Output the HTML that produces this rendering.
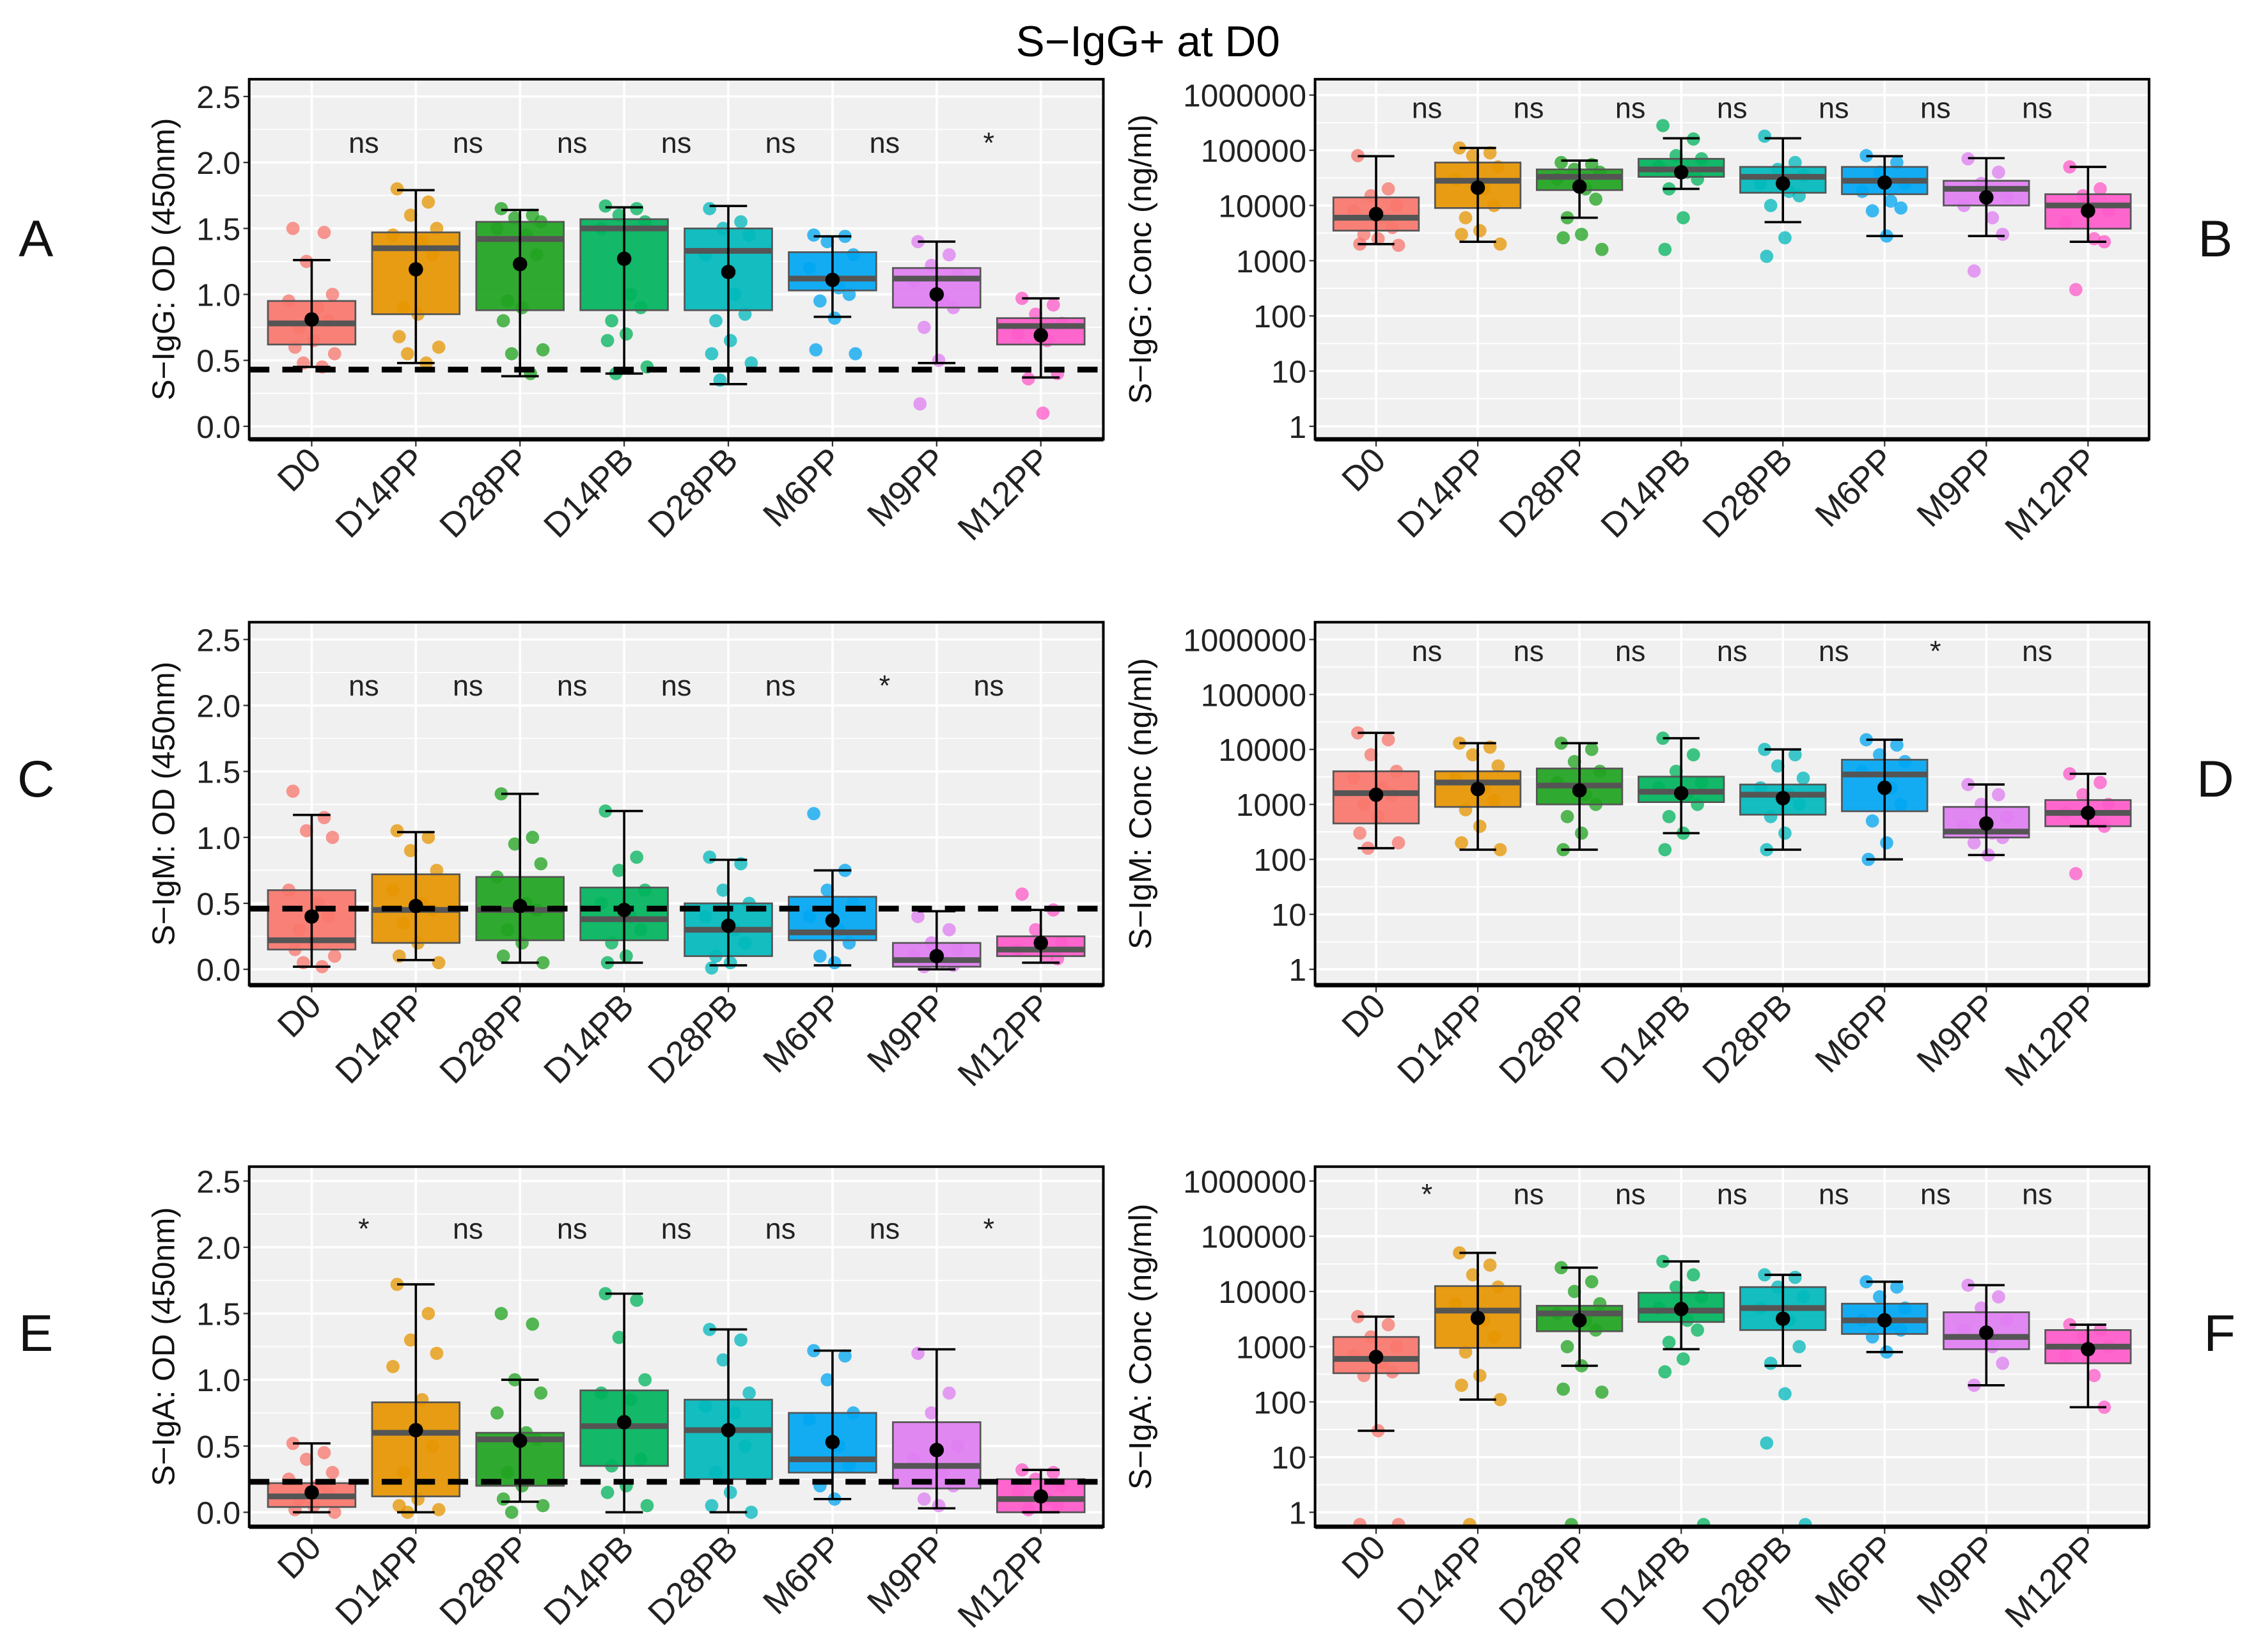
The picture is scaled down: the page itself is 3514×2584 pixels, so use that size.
<!DOCTYPE html>
<html><head><meta charset="utf-8"><style>
html,body{margin:0;padding:0;background:#fff;}
svg{display:block;font-family:"Liberation Sans",Arial,sans-serif;}
</style></head><body>
<svg id="fig" width="3514" height="2584" viewBox="0 0 1560 1147" preserveAspectRatio="none" xmlns="http://www.w3.org/2000/svg">
<text x="797" y="39" font-size="30" text-anchor="middle">S−IgG+ at D0</text>
</svg>
<script>
const categories=["D0","D14PP","D28PP","D14PB","D28PB","M6PP","M9PP","M12PP"];
const colors=["#F8766D","#E69500","#1FA31F","#00B35C","#00B8BC","#00A6F2","#DF7EF2","#FF5ACA"];
const linTicks=[0,0.5,1,1.5,2,2.5];
const linTickLabels=["0.0","0.5","1.0","1.5","2.0","2.5"];
const logTicks=[1,10,100,1000,10000,100000,1000000];
const logTickLabels=["1","10","100","1000","10000","100000","1000000"];

// Panel A
const aQ1=[.62,.85,.88,.88,.88,1.03,.9,.62];
const aMed=[.78,1.35,1.42,1.5,1.33,1.12,1.12,.76];
const aQ3=[.95,1.47,1.55,1.57,1.5,1.32,1.2,.82];
const aMean=[.81,1.19,1.23,1.27,1.17,1.11,1.0,.69];
const aLo=[.45,.48,.38,.4,.32,.83,.48,.37];
const aHi=[1.26,1.79,1.64,1.66,1.67,1.44,1.40,.97];
const aPts=[[1.5,1.47,1.25,1.0,.95,.9,.8,.75,.65,.6,.55,.48,.45],[1.8,1.7,1.6,1.5,1.45,1.4,1.3,.9,.85,.68,.6,.55,.48],[1.65,1.6,1.58,1.55,1.5,1.45,1.3,.95,.9,.8,.58,.55,.4],[1.67,1.65,1.6,1.55,1.5,1.0,.9,.8,.7,.65,.45,.4],[1.65,1.55,1.5,1.45,1.3,1.0,.85,.8,.65,.55,.48,.35],[1.45,1.44,1.4,1.3,1.2,1.05,1.0,.95,.82,.58,.55],[1.4,1.3,1.22,1.15,1.1,.95,.9,.75,.5,.17],[.97,.92,.85,.78,.7,.65,.4,.36,.1]];
const aSig=["ns","ns","ns","ns","ns","ns","*"];
const aCut=0.43;
// Panel B
const bQ1=[3500,9000,19000,33000,17000,16000,10000,3800];
const bMed=[6000,28000,33000,45000,33000,28000,20000,10000];
const bQ3=[14000,60000,45000,70000,50000,50000,28000,16000];
const bMean=[7000,21000,22000,40000,25000,26000,14000,8000];
const bLo=[2000,2200,6000,20000,5000,2800,2800,2200];
const bHi=[78000,110000,65000,165000,165000,78000,72000,50000];
const bPts=[[80000,20000,15000,10000,8000,6000,4000,3000,2500,2000,1900],[110000,90000,80000,50000,30000,20000,10000,6000,3500,3000,2000],[60000,55000,45000,40000,30000,20000,13000,6000,3000,2600,1600],[280000,160000,80000,70000,50000,40000,30000,20000,6000,1600],[180000,60000,45000,35000,25000,18000,15000,10000,2600,1200],[80000,60000,40000,25000,18000,12000,9000,8000,2800],[70000,40000,25000,15000,10000,6000,3000,650],[50000,20000,15000,8000,5000,2500,2200,300]];
const bSig=["ns","ns","ns","ns","ns","ns","ns"];
// Panel C
const cQ1=[.15,.2,.22,.22,.1,.22,.02,.1];
const cMed=[.22,.45,.45,.38,.3,.28,.07,.15];
const cQ3=[.6,.72,.7,.62,.5,.55,.2,.25];
const cMean=[.4,.48,.48,.45,.33,.37,.1,.2];
const cLo=[.02,.07,.05,.05,.03,.03,.0,.05];
const cHi=[1.17,1.04,1.33,1.2,.83,.75,.44,.45];
const cPts=[[1.35,1.15,1.05,1.0,.6,.5,.4,.3,.2,.15,.1,.05,.02],[1.05,1.0,.9,.75,.6,.5,.45,.35,.2,.1,.05],[1.33,1.0,.95,.8,.7,.5,.45,.3,.2,.1,.05],[1.2,.85,.75,.6,.5,.4,.3,.2,.1,.05],[.85,.8,.6,.5,.4,.3,.2,.1,.05,.01],[1.18,.75,.6,.5,.4,.3,.2,.1,.05],[.4,.3,.2,.15,.1,.06,.03,.02],[.57,.45,.3,.2,.15,.1,.08]];
const cSig=["ns","ns","ns","ns","ns","*","ns"];
const cCut=0.46;
// Panel D
const dQ1=[450,900,1000,1100,650,750,250,400];
const dMed=[1600,2500,2200,1700,1500,3500,320,700];
const dQ3=[4000,4000,4500,3200,2300,6500,900,1200];
const dMean=[1500,1900,1800,1600,1300,2000,450,700];
const dLo=[160,150,150,300,150,100,120,400];
const dHi=[20000,13000,13000,16000,10000,15000,2300,3600];
const dPts=[[20000,15000,8000,4000,3000,2000,1500,1000,600,300,200,160],[13000,11000,8000,5000,3000,2000,1200,800,400,200,150],[13000,10000,6000,4000,2500,1500,1000,600,300,150],[16000,8000,4000,2500,2000,1500,1000,600,300,150],[10000,8000,5000,3000,2000,1500,1000,600,300,150],[15000,12000,8000,6000,4000,2000,1000,500,200,100],[2300,1500,1000,600,400,300,250,200,120],[3600,2500,1500,1000,700,500,400,55]];
const dSig=["ns","ns","ns","ns","ns","*","ns"];
// Panel E
const eQ1=[.04,.12,.2,.35,.25,.3,.18,.0];
const eMed=[.12,.6,.55,.65,.62,.4,.35,.1];
const eQ3=[.22,.83,.6,.92,.85,.75,.68,.25];
const eMean=[.15,.62,.54,.68,.62,.53,.47,.12];
const eLo=[.0,.0,.08,.0,.0,.1,.03,.0];
const eHi=[.52,1.72,1.0,1.65,1.38,1.22,1.23,.32];
const ePts=[[.52,.45,.4,.3,.25,.2,.15,.1,.05,.02,.0],[1.72,1.5,1.3,1.2,1.1,.85,.5,.3,.1,.05,.02,.0],[1.5,1.42,1.0,.9,.75,.6,.55,.3,.2,.1,.05,.0],[1.65,1.6,1.32,1.0,.9,.85,.4,.35,.2,.15,.05],[1.38,1.3,1.15,.9,.8,.75,.5,.3,.15,.05,.0],[1.22,1.18,1.0,.75,.7,.5,.35,.2,.1],[1.2,.9,.75,.5,.4,.3,.2,.1,.05],[.32,.3,.25,.2,.15,.1,.05,.02]];
const eSig=["*","ns","ns","ns","ns","ns","*"];
const eCut=0.23;
// Panel F
const fQ1=[330,950,1900,2800,2000,1700,900,500];
const fMed=[600,4500,4000,4500,5000,3000,1500,1000];
const fQ3=[1500,12500,5500,9500,12000,6000,4200,2000];
const fMean=[650,3300,3000,4800,3200,3000,1800,900];
const fLo=[30,110,450,900,450,800,200,80];
const fHi=[3500,50000,27000,35000,20000,15000,13000,2500];
const fPts=[[3500,2500,1500,1000,700,500,350,300,30,0.6,0.6],[50000,30000,20000,12000,6000,3000,1500,800,300,200,110,0.6],[27000,15000,10000,6000,4000,3000,2000,1000,450,170,150,0.6],[35000,20000,12000,8000,5000,3000,2000,1200,600,350,0.6],[20000,18000,12000,8000,5000,3000,1000,500,140,18,0.6],[15000,12000,8000,5000,3000,2500,2000,1500,800],[13000,8000,5000,3000,2000,1000,500,200],[2500,2000,1500,1000,700,300,80]];
const fSig=["*","ns","ns","ns","ns","ns","ns"];

const NS="http://www.w3.org/2000/svg";
const svg=document.getElementById('fig');
function mk(tag,attrs,parent){const e=document.createElementNS(NS,tag);for(const k in attrs)e.setAttribute(k,attrs[k]);(parent||svg).appendChild(e);return e;}
const jit=[-0.18,0.12,-0.05,0.2,-0.22,0.06,0.16,-0.12,0.02,-0.16,0.22,-0.08,0.1];

function panel(cfg){
  const g=mk('g',{});
  
  
  const x0=cfg.x0,x1=cfg.x1,top=cfg.top,bot=cfg.bot;
  const unit=(x1-x0)/8.2;
  const xs=i=>x0+(0.6+i)*unit;
  let ys;
  if(cfg.log){const k=(cfg.yA-cfg.yB)/6;ys=v=>cfg.yA-Math.log10(v)*k;}
  else{const k=(cfg.yA-cfg.yB)/2.5;ys=v=>cfg.yA-v*k;}
  const bg=mk('rect',{x:x0,y:top,width:x1-x0,height:bot-top,fill:'#F0F0F0'},g);
  
  
  const ticks=cfg.log?logTicks:linTicks, labels=cfg.log?logTickLabels:linTickLabels;
  for(let i=0;i<ticks.length-1;i++){
    const ym=(ys(ticks[i])+ys(ticks[i+1]))/2;
    mk('line',{x1:x0,x2:x1,y1:ym,y2:ym,stroke:'#fff','stroke-width':0.8},g);
  }
  ticks.forEach((t,i)=>{
    const y=ys(t);
    const gl=mk('line',{x1:x0,x2:x1,y1:y,y2:y,stroke:'#fff','stroke-width':1.6},g);
    
    
    mk('line',{x1:x0-4,x2:x0,y1:y,y2:y,stroke:'#333','stroke-width':1},g);
    const tl=mk('text',{x:x0-6,y:y+8,'font-size':22,'text-anchor':'end',fill:'#222'},g);
    tl.textContent=labels[i];
    
    
  });
  categories.forEach((c,i)=>{
    const x=xs(i);
    mk('line',{x1:x,x2:x,y1:top,y2:bot,stroke:'#fff','stroke-width':1.6},g);
    mk('line',{x1:x,x2:x,y1:bot,y2:bot+5,stroke:'#333','stroke-width':1},g);
    const t=mk('text',{x:x+8,y:bot+16,'font-size':24,'text-anchor':'end',fill:'#222',transform:'rotate(-45 '+(x+8)+' '+(bot+16)+')'},g);
    t.textContent=c;
    
    
  });
  const clip='clip'+cfg.id;
  const cp=mk('clipPath',{id:clip},g);mk('rect',{x:x0,y:top,width:x1-x0,height:bot-top},cp);
  const body=mk('g',{'clip-path':'url(#'+clip+')'},g);
  const hw=unit*0.42, cw=unit*0.18;
  categories.forEach((c,i)=>{
    const x=xs(i);
    cfg.pts[i].forEach((v,j)=>{
      const p=mk('circle',{cx:x+jit[j%jit.length]*unit,cy:ys(v),r:4.6,fill:colors[i],'fill-opacity':0.75},body);
      
      
    });
    const b=mk('rect',{x:x-hw,y:ys(cfg.q3[i]),width:2*hw,height:ys(cfg.q1[i])-ys(cfg.q3[i]),fill:colors[i],'fill-opacity':0.92,stroke:'#555','stroke-width':1.2},body);
    
    
    const m=mk('line',{x1:x-hw,x2:x+hw,y1:ys(cfg.med[i]),y2:ys(cfg.med[i]),stroke:'#555','stroke-width':4},body);
    
    
  });
  if(cfg.cut!==undefined){
    const dl=mk('line',{x1:x0,x2:x1,y1:ys(cfg.cut),y2:ys(cfg.cut),stroke:'#000','stroke-width':4,'stroke-dasharray':'14 9'},body);
    
    
  }
  categories.forEach((c,i)=>{
    const x=xs(i);
    const eb=mk('path',{d:'M'+(x-cw)+' '+ys(cfg.lo[i])+'H'+(x+cw)+'M'+x+' '+ys(cfg.lo[i])+'V'+ys(cfg.hi[i])+'M'+(x-cw)+' '+ys(cfg.hi[i])+'H'+(x+cw),stroke:'#000','stroke-width':1.6,fill:'none'},body);
    
    
    const mp=mk('circle',{cx:x,cy:ys(cfg.mean[i]),r:5,fill:'#000'},body);
    
    
  });
  cfg.sig.forEach((s,i)=>{
    const t=mk('text',{x:xs(i+0.5),y:cfg.sigY,'font-size':20,'text-anchor':'middle',fill:'#222'},g);
    t.textContent=s;
    
    
  });
  mk('rect',{x:x0,y:top,width:x1-x0,height:bot-top,fill:'none',stroke:'#000','stroke-width':1.8},g);
  mk('line',{x1:x0,x2:x1,y1:bot,y2:bot,stroke:'#000','stroke-width':3},g);
  const yt=mk('text',{x:cfg.titleX,y:(top+bot)/2,'font-size':22,'text-anchor':'middle',fill:'#111',transform:'rotate(-90 '+cfg.titleX+' '+(top+bot)/2+')'},g);
  yt.textContent=cfg.title;
  
  
  const pl=mk('text',{x:cfg.lx,y:cfg.ly,'font-size':36,'text-anchor':'middle',fill:'#111'},g);
  pl.textContent=cfg.id;
  
  
}
const L={x0:173,x1:766}, R={x0:913,x1:1492};
panel({id:'A',x0:L.x0,x1:L.x1,top:55,bot:305,yA:296,yB:67,log:false,q1:aQ1,med:aMed,q3:aQ3,mean:aMean,lo:aLo,hi:aHi,pts:aPts,sig:aSig,sigY:106,cut:aCut,title:'S−IgG: OD (450nm)',titleX:121,lx:25,ly:178});
panel({id:'B',x0:R.x0,x1:R.x1,top:55,bot:305,yA:296,yB:66,log:true,q1:bQ1,med:bMed,q3:bQ3,mean:bMean,lo:bLo,hi:bHi,pts:bPts,sig:bSig,sigY:82,title:'S−IgG: Conc (ng/ml)',titleX:799,lx:1538,ly:178});
panel({id:'C',x0:L.x0,x1:L.x1,top:432,bot:684,yA:673,yB:444,log:false,q1:cQ1,med:cMed,q3:cQ3,mean:cMean,lo:cLo,hi:cHi,pts:cPts,sig:cSig,sigY:483,cut:cCut,title:'S−IgM: OD (450nm)',titleX:121,lx:25,ly:553});
panel({id:'D',x0:R.x0,x1:R.x1,top:432,bot:684,yA:673,yB:444,log:true,q1:dQ1,med:dMed,q3:dQ3,mean:dMean,lo:dLo,hi:dHi,pts:dPts,sig:dSig,sigY:459,title:'S−IgM: Conc (ng/ml)',titleX:799,lx:1538,ly:553});
panel({id:'E',x0:L.x0,x1:L.x1,top:810,bot:1060,yA:1050,yB:820,log:false,q1:eQ1,med:eMed,q3:eQ3,mean:eMean,lo:eLo,hi:eHi,pts:ePts,sig:eSig,sigY:860,cut:eCut,title:'S−IgA: OD (450nm)',titleX:121,lx:25,ly:938});
panel({id:'F',x0:R.x0,x1:R.x1,top:810,bot:1060,yA:1050,yB:820,log:true,q1:fQ1,med:fMed,q3:fQ3,mean:fMean,lo:fLo,hi:fHi,pts:fPts,sig:fSig,sigY:836,title:'S−IgA: Conc (ng/ml)',titleX:799,lx:1541,ly:938});
</script>
</body></html>
